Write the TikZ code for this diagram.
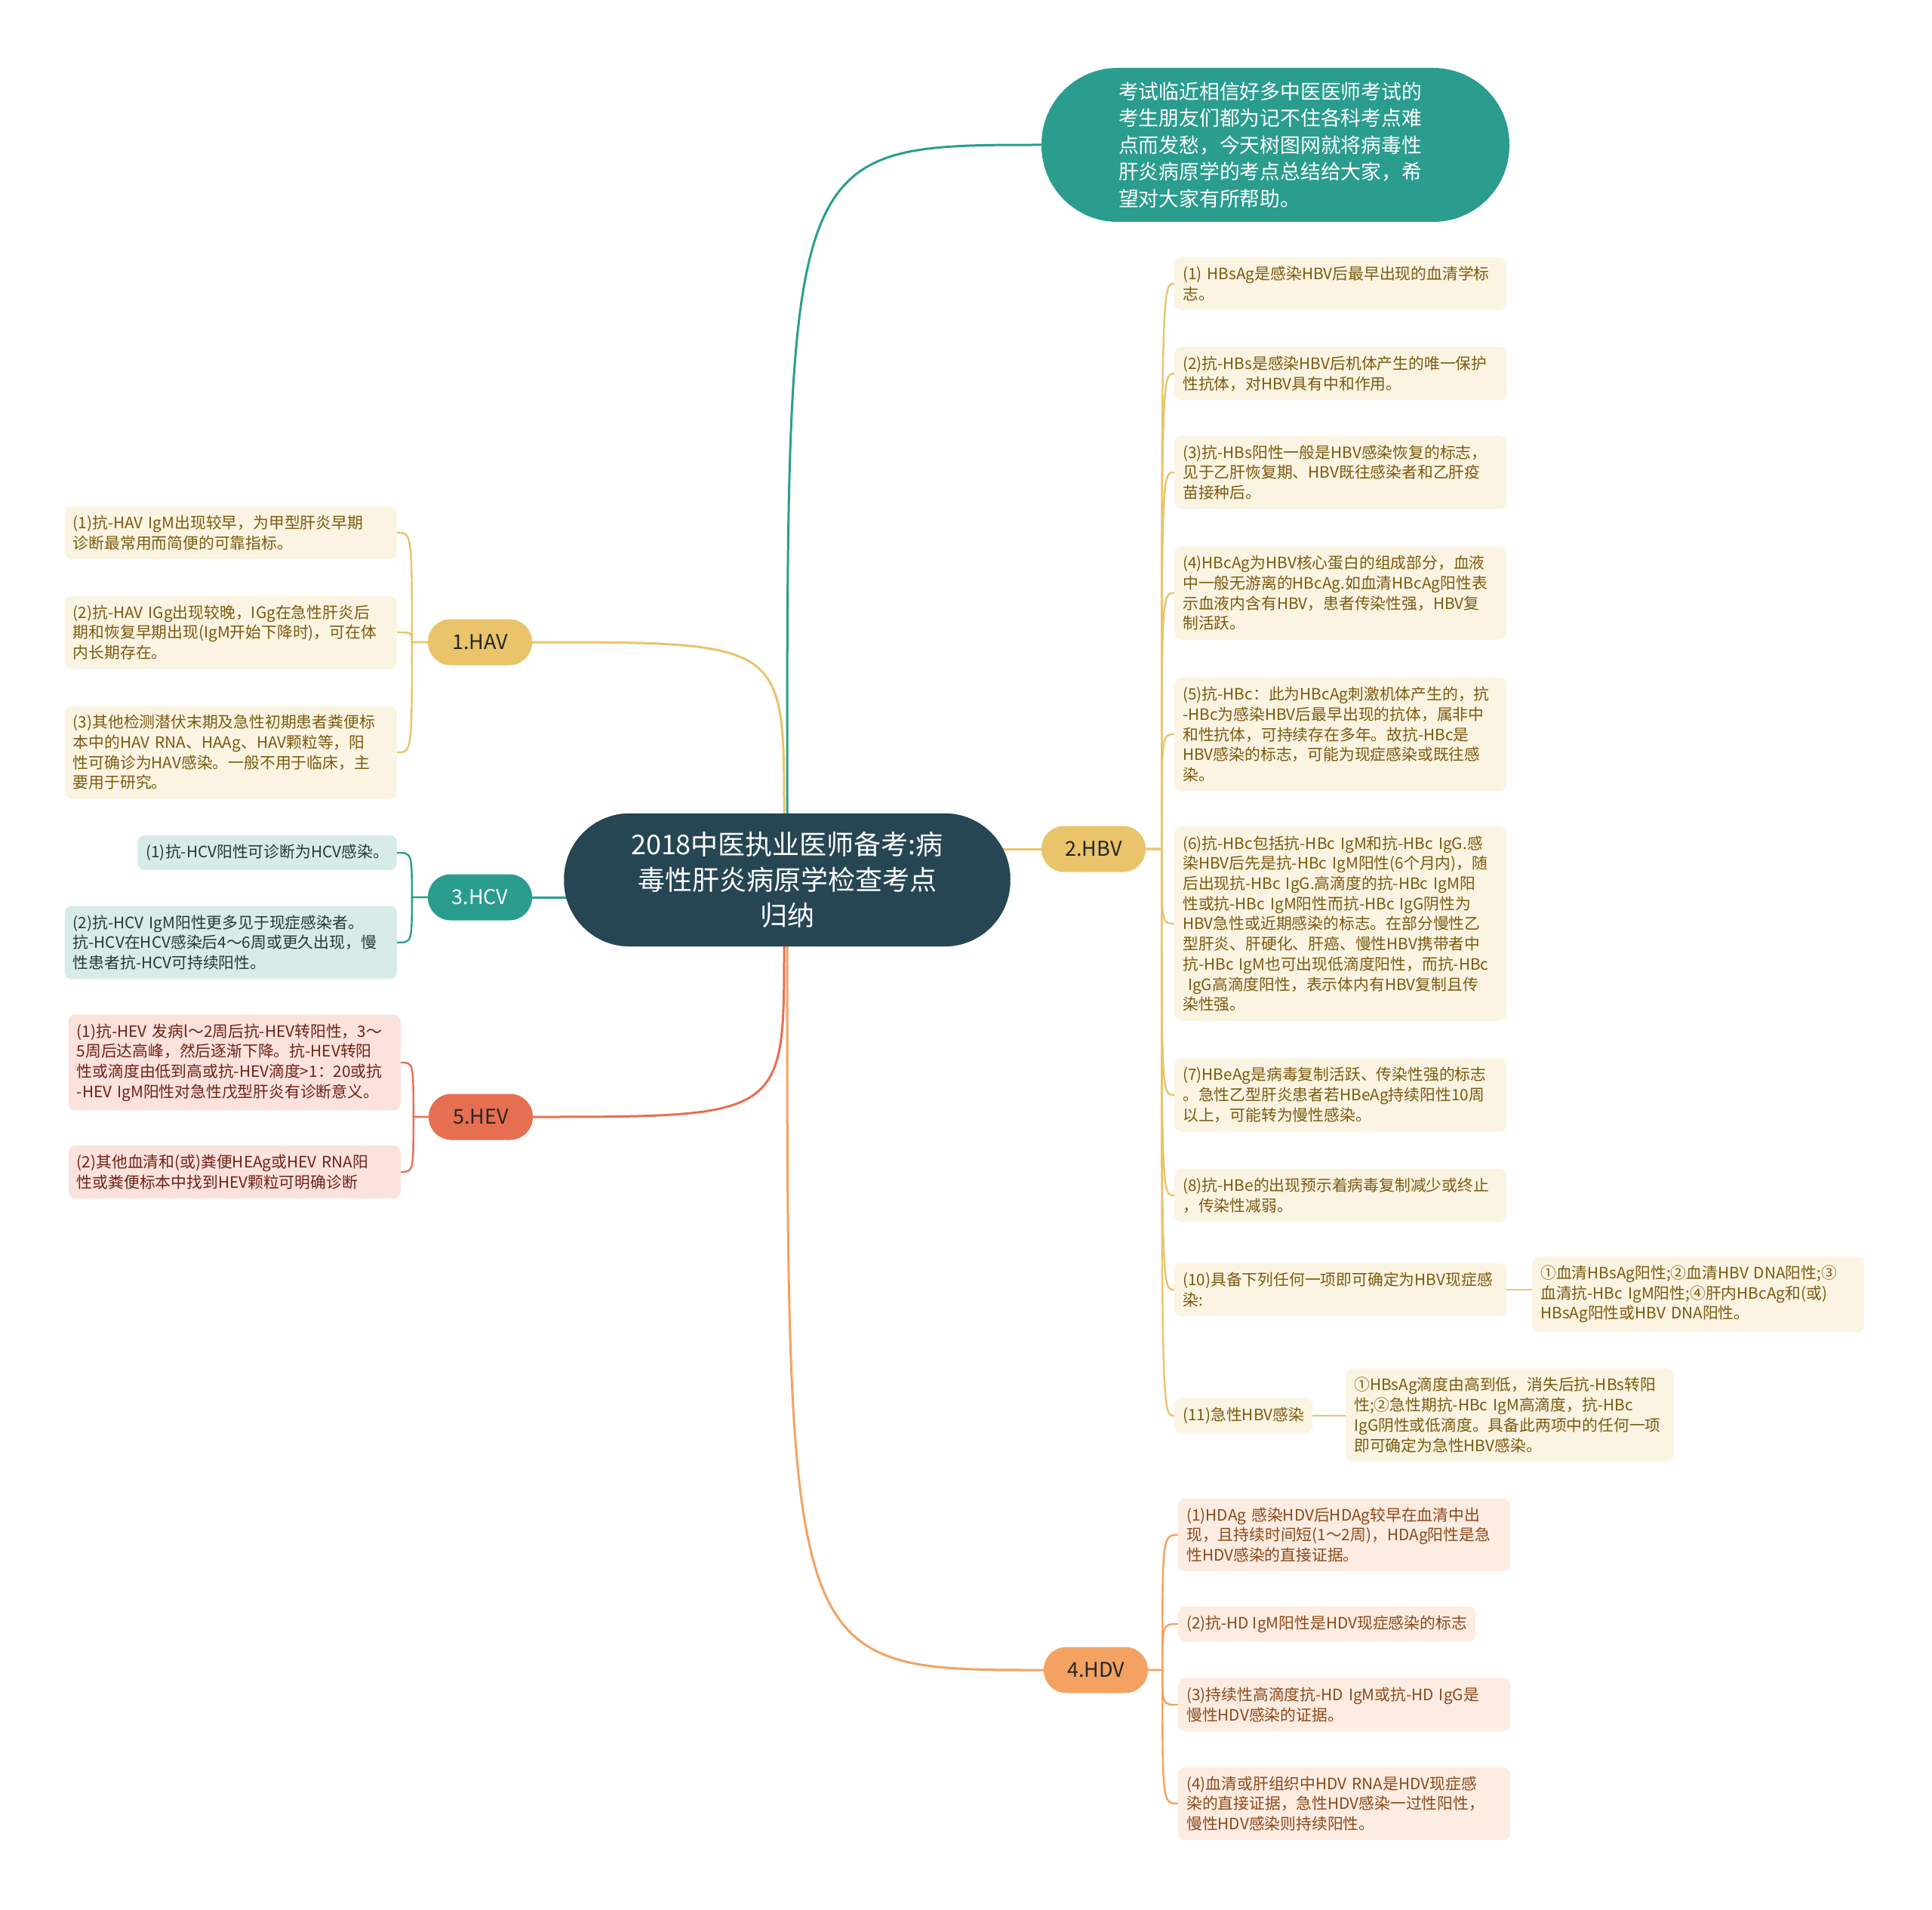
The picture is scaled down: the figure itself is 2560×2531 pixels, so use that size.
\documentclass[tikz,border=0pt]{standalone}
\usepackage{fontspec}
\setmainfont{Noto Sans CJK SC}
\usetikzlibrary{backgrounds}

\begin{document}
\begin{tikzpicture}[x=1pt, y=-1pt,
    leaf/.style={rounded corners=9pt, inner xsep=11pt, inner ysep=12pt, align=left,
        font=\fontsize{20.8pt}{26.7pt}\selectfont},
    wide/.style={text width=418pt},
    branch/.style={rounded corners=30pt, minimum width=138pt, minimum height=61pt,
        inner sep=0pt, font=\fontsize{27pt}{32pt}\selectfont},
    link/.style={line width=3pt},
    twig/.style={line width=2.4pt}]
    % --- Paleta de Colores ---
    \definecolor{rootfill}{HTML}{264653}
    \definecolor{teal}{HTML}{2A9D8F}
    \definecolor{sand}{HTML}{E9C46A}
    \definecolor{apricot}{HTML}{F4A261}
    \definecolor{coral}{HTML}{E76F51}
    \definecolor{sandfill}{HTML}{FBF4E2}
    \definecolor{sandtext}{HTML}{7C5A10}
    \definecolor{tealfill}{HTML}{D7EBE8}
    \definecolor{tealtext}{HTML}{213B38}
    \definecolor{apricotfill}{HTML}{FDECE1}
    \definecolor{apricottext}{HTML}{8A4A1C}
    \definecolor{coralfill}{HTML}{FBE2DC}
    \definecolor{coraltext}{HTML}{6F2216}
    \tikzset{
        sandleaf/.style={leaf, fill=sandfill, text=sandtext},
        tealleaf/.style={leaf, fill=tealfill, text=tealtext},
        apricotleaf/.style={leaf, fill=apricotfill, text=apricottext},
        coralleaf/.style={leaf, fill=coralfill, text=coraltext}
    }

    \useasboundingbox (0,0) rectangle (2560,2531);

    % --- Nodo Central ---
    \node[fill=rootfill, draw=rootfill!80!black, text=white, rounded corners=87pt,
        minimum width=591pt, minimum height=176pt, align=center,
        font=\fontsize{36pt}{47pt}\selectfont] (root) at (1043,1166)
        {2018中医执业医师备考:病\\毒性肝炎病原学检查考点\\归纳};

    % --- Introduccion ---
    \node[fill=teal, text=white, rounded corners=101pt, minimum width=620pt,
        minimum height=204pt, text width=416pt, align=left,
        font=\fontsize{26.8pt}{35.5pt}\selectfont] (intro) at (1690,192)
        {考试临近相信好多中医医师考试的\\考生朋友们都为记不住各科考点难\\点而发愁，今天树图网就将病毒性\\肝炎病原学的考点总结给大家，希\\望对大家有所帮助。};

    % --- Ramas Principales ---
    \node[branch, fill=sand, text=black!85] (hav) at (636,851) {1.HAV};
    \node[branch, fill=sand, text=black!85] (hbv) at (1449,1125) {2.HBV};
    \node[branch, fill=teal, text=white] (hcv) at (636,1189) {3.HCV};
    \node[branch, fill=apricot, text=black!85] (hdv) at (1452,2213) {4.HDV};
    \node[branch, fill=coral, text=black!85] (hev) at (637,1480) {5.HEV};

    % --- Hojas HBV ---
    \node[sandleaf, wide, anchor=west] (hbv1) at (1556,376)
        {(1) HBsAg是感染HBV后最早出现的血清学标\\志。};
    \node[sandleaf, wide, anchor=west] (hbv2) at (1556,495)
        {(2)抗-HBs是感染HBV后机体产生的唯一保护\\性抗体，对HBV具有中和作用。};
    \node[sandleaf, wide, anchor=west] (hbv3) at (1556,626)
        {(3)抗-HBs阳性一般是HBV感染恢复的标志，\\见于乙肝恢复期、HBV既往感染者和乙肝疫\\苗接种后。};
    \node[sandleaf, wide, anchor=west] (hbv4) at (1556,786)
        {(4)HBcAg为HBV核心蛋白的组成部分，血液\\中一般无游离的HBcAg.如血清HBcAg阳性表\\示血液内含有HBV，患者传染性强，HBV复\\制活跃。};
    \node[sandleaf, wide, anchor=west] (hbv5) at (1556,973)
        {(5)抗-HBc：此为HBcAg刺激机体产生的，抗\\-HBc为感染HBV后最早出现的抗体，属非中\\和性抗体，可持续存在多年。故抗-HBc是\\HBV感染的标志，可能为现症感染或既往感\\染。};
    \node[sandleaf, wide, anchor=west] (hbv6) at (1556,1224)
        {(6)抗-HBc包括抗-HBc IgM和抗-HBc IgG.感\\染HBV后先是抗-HBc IgM阳性(6个月内)，随\\后出现抗-HBc IgG.高滴度的抗-HBc IgM阳\\性或抗-HBc IgM阳性而抗-HBc IgG阴性为\\HBV急性或近期感染的标志。在部分慢性乙\\型肝炎、肝硬化、肝癌、慢性HBV携带者中\\抗-HBc IgM也可出现低滴度阳性，而抗-HBc\\\ IgG高滴度阳性，表示体内有HBV复制且传\\染性强。};
    \node[sandleaf, wide, anchor=west] (hbv7) at (1556,1451)
        {(7)HBeAg是病毒复制活跃、传染性强的标志\\。急性乙型肝炎患者若HBeAg持续阳性10周\\以上，可能转为慢性感染。};
    \node[sandleaf, wide, anchor=west] (hbv8) at (1556,1584)
        {(8)抗-HBe的出现预示着病毒复制减少或终止\\，传染性减弱。};
    \node[sandleaf, wide, anchor=west] (hbv10) at (1556,1709)
        {(10)具备下列任何一项即可确定为HBV现症感\\染:};
    \node[sandleaf, wide, anchor=west] (hbv10sub) at (2030,1715)
        {①血清HBsAg阳性;②血清HBV DNA阳性;③\\血清抗-HBc IgM阳性;④肝内HBcAg和(或)\\HBsAg阳性或HBV DNA阳性。};
    \node[sandleaf, anchor=west] (hbv11) at (1556,1876) {(11)急性HBV感染};
    \node[sandleaf, text width=413pt, anchor=west] (hbv11sub) at (1783,1875)
        {①HBsAg滴度由高到低，消失后抗-HBs转阳\\性;②急性期抗-HBc IgM高滴度，抗-HBc\\IgG阴性或低滴度。具备此两项中的任何一项\\即可确定为急性HBV感染。};

    % --- Hojas HDV ---
    \node[apricotleaf, wide, anchor=west] (hdv1) at (1561,2034)
        {(1)HDAg 感染HDV后HDAg较早在血清中出\\现，且持续时间短(1～2周)，HDAg阳性是急\\性HDV感染的直接证据。};
    \node[apricotleaf, anchor=west] (hdv2) at (1561,2152)
        {(2)抗-HD IgM阳性是HDV现症感染的标志};
    \node[apricotleaf, wide, anchor=west] (hdv3) at (1561,2259)
        {(3)持续性高滴度抗-HD IgM或抗-HD IgG是\\慢性HDV感染的证据。};
    \node[apricotleaf, wide, anchor=west] (hdv4) at (1561,2390)
        {(4)血清或肝组织中HDV RNA是HDV现症感\\染的直接证据，急性HDV感染一过性阳性，\\慢性HDV感染则持续阳性。};

    % --- Hojas HAV ---
    \node[sandleaf, wide, anchor=east] (hav1) at (526,706)
        {(1)抗-HAV IgM出现较早，为甲型肝炎早期\\诊断最常用而简便的可靠指标。};
    \node[sandleaf, wide, anchor=east] (hav2) at (526,838)
        {(2)抗-HAV IGg出现较晚，IGg在急性肝炎后\\期和恢复早期出现(IgM开始下降时)，可在体\\内长期存在。};
    \node[sandleaf, wide, anchor=east] (hav3) at (526,997)
        {(3)其他检测潜伏末期及急性初期患者粪便标\\本中的HAV RNA、HAAg、HAV颗粒等，阳\\性可确诊为HAV感染。一般不用于临床，主\\要用于研究。};

    % --- Hojas HCV ---
    \node[tealleaf, anchor=east] (hcv1) at (526,1130) {(1)抗-HCV阳性可诊断为HCV感染。};
    \node[tealleaf, wide, anchor=east] (hcv2) at (526,1249)
        {(2)抗-HCV IgM阳性更多见于现症感染者。\\抗-HCV在HCV感染后4～6周或更久出现，慢\\性患者抗-HCV可持续阳性。};

    % --- Hojas HEV ---
    \node[coralleaf, wide, anchor=east] (hev1) at (531,1408)
        {(1)抗-HEV 发病l～2周后抗-HEV转阳性，3～\\5周后达高峰，然后逐渐下降。抗-HEV转阳\\性或滴度由低到高或抗-HEV滴度>1：20或抗\\-HEV IgM阳性对急性戊型肝炎有诊断意义。};
    \node[coralleaf, wide, anchor=east] (hev2) at (531,1553)
        {(2)其他血清和(或)粪便HEAg或HEV RNA阳\\性或粪便标本中找到HEV颗粒可明确诊断};

    % --- Puntos de la espina ---
    \coordinate (hbvspine) at ([xshift=21pt]hbv.east);
    \coordinate (hdvspine) at ([xshift=19pt]hdv.east);
    \coordinate (havspine) at ([xshift=-21pt]hav.west);
    \coordinate (hcvspine) at ([xshift=-21pt]hcv.west);
    \coordinate (hevspine) at ([xshift=-20pt]hev.west);

    % --- Conectores (al fondo) ---
    \begin{scope}[on background layer]
        \fill[white] (0,0) rectangle (2560,2531);
        \draw[link, teal] (root.north) .. controls (root.north |- intro.west) .. (intro.west);
        \draw[link, sand] ([xshift=-4pt]root.north) .. controls ([xshift=-4pt]root.north |- hav.east) .. (hav.east);
        \draw[link, coral] ([xshift=-4pt]root.south) .. controls ([xshift=-4pt]root.south |- hev.east) .. (hev.east);
        \draw[link, apricot] (root.south) .. controls (root.south |- hdv.west) .. (hdv.west);
        \draw[link, sand] (hbv.west) -- (hbv.west -| root.center);
        \draw[link, teal] (hcv.east) -- (hcv.east -| root.center);

        \foreach \l in {hbv1,hbv2,hbv3,hbv4,hbv5,hbv6,hbv7,hbv8,hbv10,hbv11}
            \draw[twig, sand] (hbv.east) -- (hbvspine) .. controls (hbvspine |- \l.west) .. (\l.west);
        \foreach \l in {hdv1,hdv2,hdv3,hdv4}
            \draw[twig, apricot] (hdv.east) -- (hdvspine) .. controls (hdvspine |- \l.west) .. (\l.west);
        \foreach \l in {hav1,hav2,hav3}
            \draw[twig, sand] (hav.west) -- (havspine) .. controls (havspine |- \l.east) .. (\l.east);
        \foreach \l in {hcv1,hcv2}
            \draw[twig, teal] (hcv.west) -- (hcvspine) .. controls (hcvspine |- \l.east) .. (\l.east);
        \foreach \l in {hev1,hev2}
            \draw[twig, coral] (hev.west) -- (hevspine) .. controls (hevspine |- \l.east) .. (\l.east);

        \draw[twig, sand] (hbv10.east) -- (hbv10.east -| hbv10sub.west);
        \draw[twig, sand] (hbv11.east) -- (hbv11.east -| hbv11sub.west);
    \end{scope}

\end{tikzpicture}
\end{document}
